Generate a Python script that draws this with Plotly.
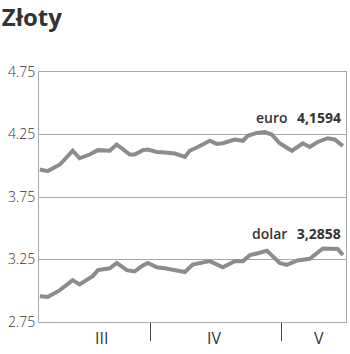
import plotly.graph_objects as go

# Day numbers (1 = 1 March) and rates
euro_days = [5.6, 7.4, 10.2, 13.1, 14.7, 17.0, 18.9, 21.6, 23.2, 26.2, 27.3, 29.2, 30.3,
             32.4, 34.2, 36.5, 38.8, 39.9, 41.8, 44.5, 46.1, 47.5, 50.2, 52.1, 53.2, 55.3,
             57.1, 58.7, 60.5, 63.3, 65.8, 67.4, 69.2, 71.5, 73.1, 75.0]
euro_vals = [3.97, 3.957, 4.01, 4.12, 4.06, 4.09, 4.125, 4.12, 4.17, 4.09, 4.09, 4.125, 4.13,
             4.11, 4.106, 4.098, 4.07, 4.12, 4.15, 4.20, 4.175, 4.18, 4.21, 4.20, 4.24, 4.263,
             4.27, 4.25, 4.18, 4.12, 4.18, 4.15, 4.19, 4.22, 4.21, 4.1594]

dolar_days = [5.6, 7.4, 10.2, 13.1, 14.7, 17.0, 17.7, 18.9, 21.6, 23.2, 25.5, 27.3, 28.9,
              30.3, 32.4, 34.2, 36.5, 38.8, 40.6, 42.7, 44.5, 47.5, 50.2, 52.1, 53.7, 55.5,
              57.6, 58.9, 60.5, 62.1, 64.6, 67.4, 68.6, 70.4, 73.8, 75.0]
dolar_vals = [2.956, 2.95, 3.005, 3.085, 3.05, 3.095, 3.117, 3.165, 3.18, 3.223, 3.165, 3.154,
              3.197, 3.223, 3.188, 3.18, 3.165, 3.15, 3.21, 3.223, 3.237, 3.188, 3.237, 3.237,
              3.285, 3.30, 3.32, 3.277, 3.223, 3.207, 3.242, 3.256, 3.29, 3.338, 3.335, 3.2858]

y_ticks = [2.75, 3.25, 3.75, 4.25, 4.75]
y_tick_labels = ["2.75", "3.25", "3.75", "4.25", "4.75"]
month_bounds = [31, 61]
month_labels = ["III", "IV", "V"]
month_centers = [19.8, 45.4, 69.5]
labels = ["euro\u2002\u2009<b>4,1594</b>", "dolar\u2002\u2009<b>3,2858</b>"]
label_y = [4.39, 3.46]

line_col = "#8c8c8c"
grid_col = "#a9a9a9"
txt_col = "#333333"

fig = go.Figure()
fig.add_trace(go.Scatter(x=euro_days, y=euro_vals, mode="lines",
                         line=dict(color=line_col, width=4), hoverinfo="skip"))
fig.add_trace(go.Scatter(x=dolar_days, y=dolar_vals, mode="lines",
                         line=dict(color=line_col, width=4), hoverinfo="skip"))

for txt, yv in zip(labels, label_y):
    fig.add_annotation(x=0.99, xref="paper", y=yv, yref="y", text=txt, showarrow=False,
                       xanchor="right", yanchor="middle",
                       font=dict(family="Open Sans", size=14, color=txt_col, weight=600))

for lab, xc in zip(month_labels, month_centers):
    fig.add_annotation(x=xc, xref="x", y=-0.065, yref="paper", text=lab, showarrow=False,
                       xanchor="center", yanchor="middle",
                       font=dict(family="Open Sans", size=16, color=txt_col))

fig.update_layout(
    width=350, height=354,
    margin=dict(l=39, r=4, t=72, b=32),
    paper_bgcolor="white", plot_bgcolor="white",
    showlegend=False,
    title=dict(text="<b>Złoty</b>", x=0.005, xanchor="left", xref="container",
               y=0.975, yanchor="top", yref="container",
               font=dict(family="Open Sans", size=24, color=txt_col)),
    xaxis=dict(range=[5.4, 75.7], showgrid=False, zeroline=False,
               showline=True, linecolor=grid_col, linewidth=1, mirror=True,
               tickmode="array", tickvals=month_bounds, ticktext=["", ""],
               ticks="outside", ticklen=18, tickcolor="#444444", tickwidth=1),
    yaxis=dict(range=[2.75, 4.75], showgrid=True, gridcolor=grid_col, gridwidth=1,
               zeroline=False, showline=True, linecolor=grid_col, linewidth=1, mirror=True,
               tickmode="array", tickvals=y_ticks, ticktext=y_tick_labels,
               ticks="", tickfont=dict(family="Open Sans", size=14, color=txt_col, weight=300)),
)

fig.write_html("out.html")
